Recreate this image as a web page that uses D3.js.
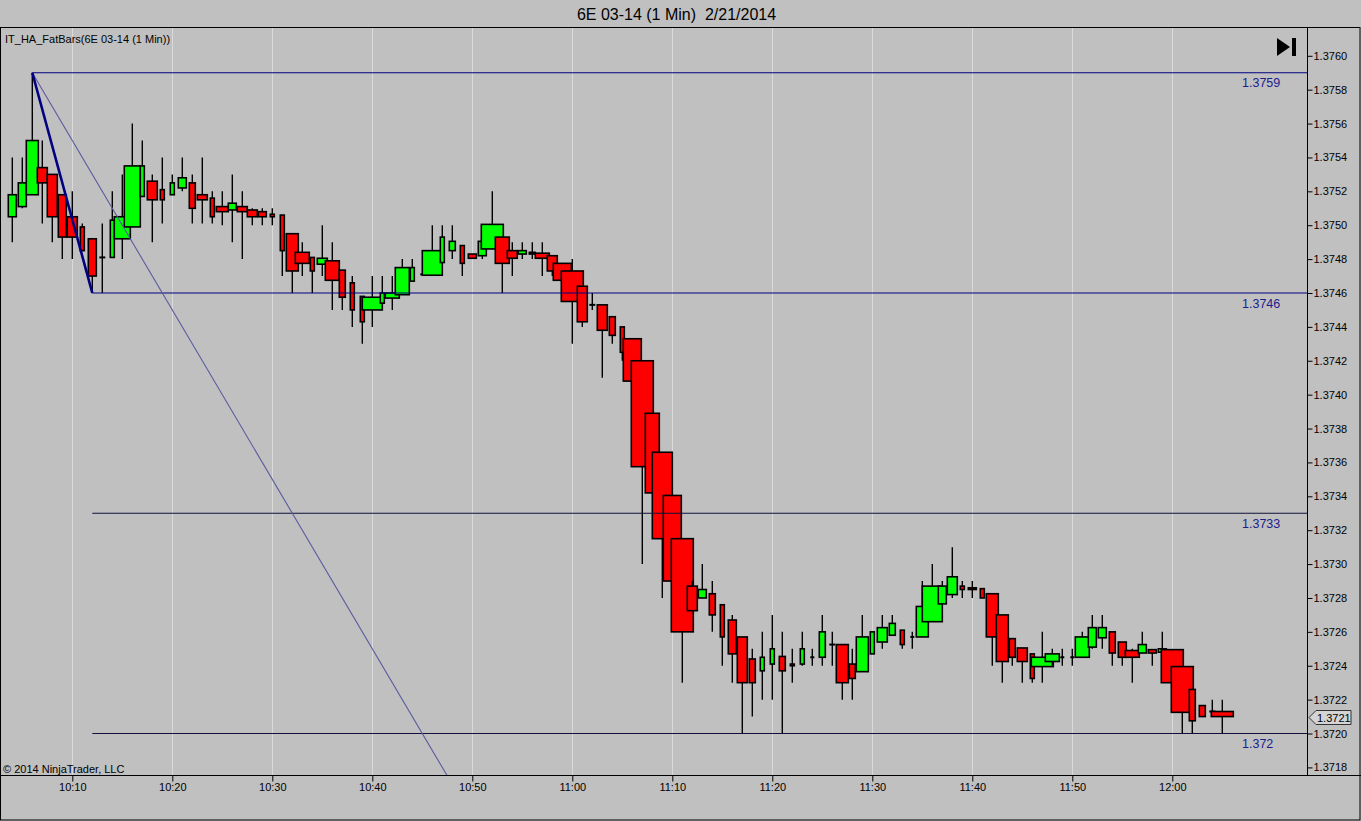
<!DOCTYPE html>
<html><head><meta charset="utf-8">
<script src="https://cdn.jsdelivr.net/npm/d3@7"></script>
<style>
html,body{margin:0;padding:0;background:#c0c0c0;overflow:hidden;}
svg{display:block;font-family:Arial,"Liberation Sans",sans-serif;}
</style></head><body>
<svg id="c" width="1361" height="821"></svg>
<script>
// ---------- DATA ----------
const times = ["10:04","10:05","10:06","10:07","10:08","10:09",
"10:10","10:11","10:12","10:13","10:14","10:15","10:16","10:17","10:18","10:19",
"10:20","10:21","10:22","10:23","10:24","10:25","10:26","10:27","10:28","10:29",
"10:30","10:31","10:32","10:33","10:34","10:35","10:36","10:37","10:38","10:39",
"10:40","10:41","10:42","10:43","10:44","10:45","10:46","10:47","10:48","10:49",
"10:50","10:51","10:52","10:53","10:54","10:55","10:56","10:57","10:58","10:59",
"11:00","11:01","11:02","11:03","11:04","11:05","11:06","11:07","11:08","11:09",
"11:10","11:11","11:12","11:13","11:14","11:15","11:16","11:17","11:18","11:19",
"11:20","11:21","11:22","11:23","11:24","11:25","11:26","11:27","11:28","11:29",
"11:30","11:31","11:32","11:33","11:34","11:35","11:36","11:37","11:38","11:39",
"11:40","11:41","11:42","11:43","11:44","11:45","11:46","11:47","11:48","11:49",
"11:50","11:51","11:52","11:53","11:54","11:55","11:56","11:57","11:58","11:59",
"12:00","12:01","12:02","12:03","12:04","12:05"];

const open = [1.37505,1.37511,1.37518,1.37534,1.37530,1.37518,
1.37505,1.37499,1.37492,1.37481,1.37481,1.37492,1.37499,1.37517,1.37526,1.37521,
1.37518,1.37522,1.37525,1.37518,1.37516,1.37511,1.37509,1.37511,1.37509,1.37508,
1.375065,1.37506,1.37495,1.37484,1.37481,1.37477,1.37479,1.374735,1.37466,1.37458,
1.37450,1.37454,1.37457,1.37459,1.37467,1.37471,1.374705,1.37478,1.37485,1.37488,
1.37483,1.37482,1.37486,1.37493,1.37485,1.37483,1.37484,1.374835,1.37482,1.374775,
1.37473,1.37464,1.37453,1.37453,1.37446,1.37440,1.37433,1.37420,1.37389,1.37366,
1.373405,1.37315,1.37287,1.37280,1.372825,1.37276,1.37267,1.37257,1.37244,1.37237,
1.37241,1.372455,1.37241,1.37241,1.37245,1.37245,1.372525,1.372525,1.37241,1.372365,
1.37247,1.37254,1.37258,1.37261,1.37257,1.37257,1.37266,1.372765,1.37282,1.37287,
1.37286,1.372855,1.372825,1.37270,1.37256,1.372505,1.37247,1.372395,1.372425,1.37245,
1.37245,1.37245,1.37251,1.372565,1.37260,1.37254,1.37249,1.372475,1.372495,1.37248,
1.372495,1.372395,1.37226,1.372165,1.37213,1.37213];

const high = [1.37540,1.37540,1.37590,1.37550,1.37530,1.37518,
1.37520,1.37501,1.37492,1.37501,1.37520,1.37530,1.37560,1.37550,1.37530,1.37540,
1.37530,1.37540,1.37530,1.37540,1.37520,1.37520,1.37530,1.37520,1.37510,1.37510,
1.37510,1.37506,1.37495,1.37490,1.37481,1.37500,1.37490,1.374735,1.37470,1.37458,
1.37470,1.37470,1.37470,1.37480,1.37480,1.37471,1.37500,1.37500,1.37500,1.37488,
1.37483,1.374905,1.37520,1.37493,1.37490,1.37490,1.37490,1.37490,1.37482,1.374775,
1.37480,1.37464,1.37460,1.37453,1.37446,1.37440,1.37433,1.37420,1.37389,1.37366,
1.373405,1.37315,1.37290,1.37300,1.37290,1.37276,1.37270,1.37257,1.37250,1.37260,
1.37270,1.37260,1.37250,1.37260,1.37250,1.37270,1.37260,1.372525,1.37250,1.37270,
1.37260,1.37270,1.37270,1.37261,1.37260,1.37290,1.37300,1.37290,1.37310,1.37290,
1.37290,1.372855,1.372825,1.37270,1.37256,1.372505,1.37247,1.37260,1.37250,1.37250,
1.37250,1.37260,1.37270,1.37270,1.37260,1.37254,1.37250,1.37260,1.372495,1.37260,
1.372495,1.372395,1.37226,1.372165,1.37220,1.37220];

const low = [1.37490,1.37510,1.37518,1.37501,1.37490,1.37480,
1.37480,1.37485,1.37460,1.37460,1.37481,1.37480,1.37499,1.37517,1.37490,1.37501,
1.37518,1.37520,1.37501,1.37501,1.37501,1.37500,1.37490,1.37480,1.37500,1.37500,
1.37500,1.37470,1.37460,1.37470,1.37460,1.37470,1.37450,1.37450,1.37440,1.37430,
1.37440,1.37454,1.37450,1.37459,1.37467,1.37471,1.374705,1.37478,1.37480,1.37470,
1.374805,1.37480,1.37486,1.37460,1.37470,1.37480,1.37480,1.37470,1.37470,1.374675,
1.37430,1.37440,1.37450,1.37410,1.37430,1.37420,1.37408,1.37300,1.37342,1.37280,
1.37290,1.37230,1.372725,1.37280,1.37260,1.37240,1.37230,1.37200,1.37210,1.37220,
1.37220,1.37200,1.37230,1.37240,1.37240,1.37240,1.37240,1.37220,1.37220,1.372365,
1.37247,1.37250,1.37258,1.37250,1.37250,1.37257,1.37266,1.372765,1.37280,1.37280,
1.37280,1.37280,1.37240,1.37230,1.37240,1.37230,1.37230,1.37230,1.37240,1.37240,
1.37240,1.37245,1.37250,1.37250,1.37240,1.37240,1.37230,1.372475,1.37240,1.37248,
1.37230,1.37200,1.37200,1.37210,1.37213,1.37200];

const close = [1.37518,1.37525,1.37550,1.37525,1.37505,1.37493,
1.37493,1.37485,1.37470,1.37481,1.37503,1.37505,1.37535,1.37535,1.37515,1.37515,
1.37525,1.37528,1.37510,1.37515,1.37505,1.37508,1.37513,1.37508,1.37505,1.37505,
1.37505,1.37485,1.37473,1.374775,1.37473,1.374805,1.374675,1.374575,1.37450,1.37443,
1.374575,1.37460,1.37460,1.37475,1.37475,1.37471,1.37485,1.37493,1.374905,1.374775,
1.374805,1.374905,1.375005,1.374775,1.374805,1.37485,1.37483,1.374805,1.37473,1.374675,
1.37455,1.37443,1.37453,1.37438,1.37435,1.37425,1.37408,1.373575,1.37342,1.37315,
1.37290,1.37260,1.372725,1.37285,1.37270,1.37257,1.37247,1.37230,1.37230,1.37245,
1.37250,1.37237,1.37240,1.37250,1.37245,1.37260,1.372525,1.37230,1.372325,1.37257,
1.37260,1.372625,1.37265,1.372525,1.37257,1.37275,1.37287,1.37287,1.372925,1.37285,
1.37285,1.37280,1.37257,1.372425,1.37245,1.372425,1.372325,1.37245,1.37247,1.37245,
1.37245,1.37257,1.372625,1.372625,1.372475,1.37245,1.37245,1.372525,1.372475,1.37250,
1.37230,1.372125,1.372075,1.37210,1.37213,1.37210];

const volume = [400,400,600,500,500,400,
500,200,400,300,200,800,800,200,500,200,
200,400,300,500,200,600,400,500,500,400,
200,200,600,700,200,500,700,300,200,200,
1000,200,700,700,200,200,1000,200,300,200,
400,400,1100,700,500,400,300,700,500,900,
1100,500,300,500,300,200,900,1100,700,1000,
900,1100,500,400,300,200,400,500,300,200,
200,300,200,200,200,300,300,600,300,600,
200,500,300,200,200,600,1000,400,500,200,
400,200,600,600,300,500,200,1100,700,200,
200,700,400,400,300,400,700,400,400,400,
1100,1100,300,300,300,1100];

const timeTicks = ["10:10","10:20","10:30","10:40","10:50","11:00","11:10","11:20","11:30","11:40","11:50","12:00"];
const priceTicks = [1.3718,1.3720,1.3722,1.3724,1.3726,1.3728,1.3730,1.3732,1.3734,1.3736,1.3738,1.3740,
                    1.3742,1.3744,1.3746,1.3748,1.3750,1.3752,1.3754,1.3756,1.3758,1.3760];

// drawing objects
const levelPrices = [1.3759, 1.3746, 1.3733, 1.3720];
const levelLabels = ["1.3759", "1.3746", "1.3733", "1.372"];
const levelStart  = ["10:06", "10:12", "10:12", "10:12"];
const swingTimes  = ["10:06", "10:12"];
const swingPrices = [1.3759, 1.3746];
const gannTimes   = ["10:06", "10:50"];
const gannPrices  = [1.3759, 1.3715];
const lastPriceLabel = "1.3721";

const title = "6E 03-14 (1 Min)  2/21/2014";
const indicatorLabel = "IT_HA_FatBars(6E 03-14 (1 Min))";
const copyright = "\u00A9 2014 NinjaTrader, LLC";

// ---------- LAYOUT ----------
const svg = d3.select("#c");
const plot = {left: 0, right: 1307, top: 27, bottom: 775};
const parse = d3.timeParse("%H:%M");
const x = d3.scaleTime().domain([parse("10:10"), parse("12:00")]).range([72.3, 1172.3]);
const y = d3.scaleLinear().domain([1.3718, 1.3760]).range([767.4, 55.8]);
const wScale = d3.scaleLinear().domain([0, 1100]).range([0, 22]);

const bars = times.map((t, i) => ({t: parse(t), o: open[i], h: high[i], l: low[i], c: close[i], v: volume[i]}));

svg.append("rect").attr("width", 1361).attr("height", 821).attr("fill", "#c0c0c0");

const defs = svg.append("defs");
defs.append("clipPath").attr("id", "clip").append("rect")
  .attr("x", plot.left).attr("y", plot.top).attr("width", plot.right - plot.left).attr("height", plot.bottom - plot.top);

// title
svg.append("text").attr("x", 676.5).attr("y", 19.5).attr("text-anchor", "middle")
  .attr("font-size", 16).attr("fill", "#000").style("white-space", "pre").text(title);

// vertical gridlines
svg.append("g").selectAll("line").data(timeTicks).join("line")
  .attr("x1", d => Math.round(x(parse(d))) + 0.5).attr("x2", d => Math.round(x(parse(d))) + 0.5)
  .attr("y1", plot.top).attr("y2", plot.bottom)
  .attr("stroke", "#dadada").attr("stroke-width", 1);

// frame
svg.append("rect").attr("x", 0.5).attr("y", 27.5).attr("width", 1359.5).attr("height", 792.5)
  .attr("fill", "none").attr("stroke", "#000").attr("stroke-width", 1);
svg.append("line").attr("x1", 0).attr("x2", 1361).attr("y1", plot.bottom + 0.5).attr("y2", plot.bottom + 0.5)
  .attr("stroke", "#000");
svg.append("line").attr("x1", plot.right + 0.5).attr("x2", plot.right + 0.5).attr("y1", plot.top).attr("y2", plot.bottom)
  .attr("stroke", "#000");

// right price axis
const yAxis = d3.axisRight(y).tickValues(priceTicks).tickFormat(d3.format(".4f")).tickSize(5).tickSizeOuter(0);
const ya = svg.append("g").attr("transform", `translate(${plot.right + 0.5},0)`).call(yAxis);
ya.select(".domain").remove();
ya.selectAll("text").attr("font-size", 11).attr("font-family", "Arial, 'Liberation Sans', sans-serif").attr("fill", "#000").attr("x", 6);
ya.selectAll("line").attr("stroke", "#000");

// bottom time axis
const xAxis = d3.axisBottom(x).tickValues(timeTicks.map(parse)).tickFormat(d3.timeFormat("%H:%M")).tickSize(6).tickSizeOuter(0);
const xa = svg.append("g").attr("transform", `translate(0,${plot.bottom + 0.5})`).call(xAxis);
xa.select(".domain").remove();
xa.selectAll("text").attr("font-size", 11).attr("font-family", "Arial, 'Liberation Sans', sans-serif").attr("fill", "#000").attr("y", 8);
xa.selectAll("line").attr("stroke", "#000");

// ---------- PLOT CONTENT ----------
const g = svg.append("g").attr("clip-path", "url(#clip)");

// candles (heikin-ashi fat bars)
bars.forEach(d => {
  const cx = x(d.t);
  const w = wScale(d.v);
  g.append("line").attr("x1", cx).attr("x2", cx).attr("y1", y(d.h)).attr("y2", y(d.l))
    .attr("stroke", "#000").attr("stroke-width", 1.4);
  if (d.o === d.c) {
    g.append("rect").attr("x", cx - w / 2).attr("y", y(d.o) - 1).attr("width", w).attr("height", 2).attr("fill", "#000");
  } else {
    const top = y(Math.max(d.o, d.c)), bot = y(Math.min(d.o, d.c));
    g.append("rect").attr("x", cx - w / 2).attr("y", top).attr("width", w).attr("height", bot - top)
      .attr("fill", d.c > d.o ? "#00ff00" : "#ff0000").attr("stroke", "#000").attr("stroke-width", 1.6);
  }
});

// horizontal levels
levelPrices.forEach((p, i) => {
  g.append("line").attr("x1", x(parse(levelStart[i]))).attr("x2", plot.right)
    .attr("y1", y(p)).attr("y2", y(p))
    .attr("stroke", i < 2 ? "#000080" : "#10103a").attr("stroke-width", 1.2);
  svg.append("text").attr("x", 1242).attr("y", y(p) + 14.5).attr("font-size", 12.5)
    .attr("fill", "#1c1c8c").text(levelLabels[i]);
});

// gann-type line (thin)
g.append("line").attr("x1", x(parse(gannTimes[0]))).attr("y1", y(gannPrices[0]))
  .attr("x2", x(parse(gannTimes[1]))).attr("y2", y(gannPrices[1]))
  .attr("stroke", "#5a5aa0").attr("stroke-width", 1.1);

// swing line (thick)
g.append("line").attr("x1", x(parse(swingTimes[0]))).attr("y1", y(swingPrices[0]))
  .attr("x2", x(parse(swingTimes[1]))).attr("y2", y(swingPrices[1]))
  .attr("stroke", "#000080").attr("stroke-width", 2.6);

// texts inside plot
svg.append("text").attr("x", 5).attr("y", 43).attr("font-size", 11).attr("fill", "#000").text(indicatorLabel);
svg.append("text").attr("x", 3).attr("y", 773).attr("font-size", 11).attr("fill", "#000").text(copyright);

// scroll-to-end icon
svg.append("path").attr("d", "M1277,38 L1290,47 L1277,56 Z").attr("fill", "#000");
svg.append("rect").attr("x", 1292).attr("y", 38).attr("width", 4).attr("height", 18).attr("fill", "#000");

// last price marker
const ly = Math.round(y(close[close.length - 1])) + 0.5;
svg.append("path")
  .attr("d", `M${plot.right + 2},${ly} L${plot.right + 9},${ly - 7} L${plot.right + 44},${ly - 7} L${plot.right + 44},${ly + 7} L${plot.right + 9},${ly + 7} Z`)
  .attr("fill", "#d4d4d4").attr("stroke", "#333").attr("stroke-width", 1);
svg.append("text").attr("x", plot.right + 10).attr("y", ly + 4).attr("font-size", 11).attr("fill", "#000").text(lastPriceLabel);
</script>
</body></html>
